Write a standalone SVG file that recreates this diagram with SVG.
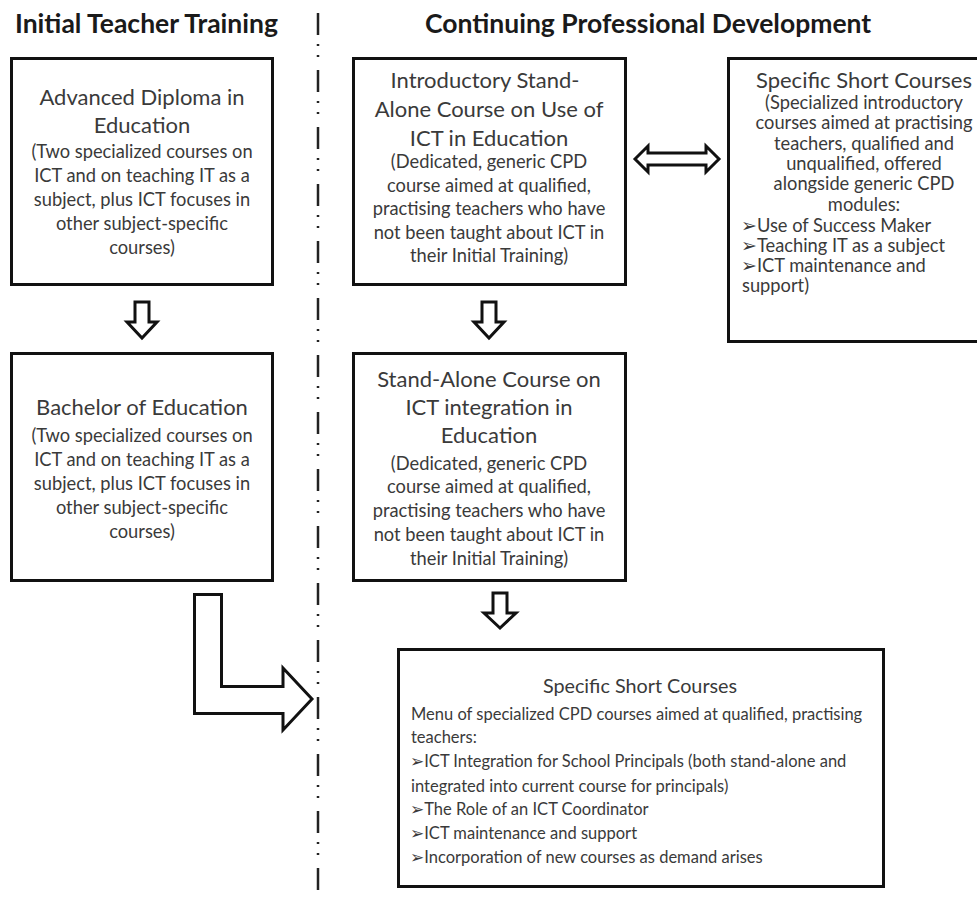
<svg xmlns="http://www.w3.org/2000/svg" width="977" height="897" viewBox="0 0 977 897">
<style>
.box{fill:#fff;stroke:#111;stroke-width:3}
.arr{fill:#fff;stroke:#111;stroke-width:3;stroke-linejoin:miter}
.hdr{font-family:Lato,"Liberation Sans",sans-serif;font-weight:bold;font-size:26.5px;fill:#1a1a1a}
.t{font-family:Lato,"Liberation Sans",sans-serif;font-size:22px;fill:#3a3a3a;text-anchor:middle}
.s{font-family:Lato,"Liberation Sans",sans-serif;font-size:18.3px;fill:#3a3a3a;text-anchor:middle}
.t2{font-family:Lato,"Liberation Sans",sans-serif;font-size:22px;fill:#3a3a3a;text-anchor:middle}
.t3{font-family:Lato,"Liberation Sans",sans-serif;font-size:19.8px;fill:#3a3a3a;text-anchor:middle}
.s2{font-family:Lato,"Liberation Sans",sans-serif;font-size:18.3px;fill:#3a3a3a}
.m{text-anchor:middle}
.b{font-family:Lato,"Liberation Sans",sans-serif;font-size:16.5px;fill:#3a3a3a}
.bul{font-family:"DejaVu Sans",sans-serif;font-size:19px}
.bul2{font-family:"DejaVu Sans",sans-serif;font-size:17px}
.div{stroke:#222;stroke-width:2.5;fill:none;stroke-dasharray:22 9 2 9 2 13}
</style>
<text class="hdr" x="15" y="33">Initial Teacher Training</text>
<text class="hdr" x="425" y="33">Continuing Professional Development</text>
<line class="div" x1="318" y1="13" x2="318" y2="897"/>

<g id="advanced-diploma">
<rect class="box" x="11.5" y="58.5" width="261" height="226"/>
<text class="t" x="142" y="105">Advanced Diploma in</text>
<text class="t" x="142" y="133">Education</text>
<text class="s" x="142" y="158">(Two specialized courses on</text>
<text class="s" x="142" y="182">ICT and on teaching IT as a</text>
<text class="s" x="142" y="206">subject, plus ICT focuses in</text>
<text class="s" x="142" y="230">other subject-specific</text>
<text class="s" x="142" y="254">courses)</text>
</g>

<g id="bachelor">
<rect class="box" x="11.5" y="353.5" width="261" height="227"/>
<text class="t" x="142" y="415">Bachelor of Education</text>
<text class="s" x="142" y="442">(Two specialized courses on</text>
<text class="s" x="142" y="466">ICT and on teaching IT as a</text>
<text class="s" x="142" y="490">subject, plus ICT focuses in</text>
<text class="s" x="142" y="514">other subject-specific</text>
<text class="s" x="142" y="538">courses)</text>
</g>

<g id="introductory">
<rect class="box" x="353.5" y="58.5" width="272" height="226"/>
<text class="t" x="485" y="88">Introductory Stand-</text>
<text class="t" x="489" y="117">Alone Course on Use of</text>
<text class="t" x="489" y="146">ICT in Education</text>
<text class="s" x="489" y="168">(Dedicated, generic CPD</text>
<text class="s" x="489" y="192">course aimed at qualified,</text>
<text class="s" x="489" y="215">practising teachers who have</text>
<text class="s" x="489" y="239">not been taught about ICT in</text>
<text class="s" x="489" y="262">their Initial Training)</text>
</g>

<g id="standalone">
<rect class="box" x="353.5" y="353.5" width="272" height="227"/>
<text class="t" x="489" y="387">Stand-Alone Course on</text>
<text class="t" x="489" y="415">ICT integration in</text>
<text class="t" x="489" y="443">Education</text>
<text class="s" x="489" y="470">(Dedicated, generic CPD</text>
<text class="s" x="489" y="493">course aimed at qualified,</text>
<text class="s" x="489" y="517">practising teachers who have</text>
<text class="s" x="489" y="541">not been taught about ICT in</text>
<text class="s" x="489" y="565">their Initial Training)</text>
</g>

<g id="specific-short-top">
<rect class="box" x="728.5" y="58.5" width="262" height="283"/>
<text class="t2" x="864" y="88">Specific Short Courses</text>
<text class="s2 m" x="864" y="109">(Specialized introductory</text>
<text class="s2 m" x="864" y="129">courses aimed at practising</text>
<text class="s2 m" x="864" y="150">teachers, qualified and</text>
<text class="s2 m" x="864" y="170">unqualified, offered</text>
<text class="s2 m" x="864" y="190">alongside generic CPD</text>
<text class="s2 m" x="864" y="211">modules:</text>
<text class="s2" x="741" y="232"><tspan class="bul">➢</tspan><tspan dx="0">Use of Success Maker</tspan></text>
<text class="s2" x="741" y="252"><tspan class="bul">➢</tspan><tspan dx="0">Teaching IT as a subject</tspan></text>
<text class="s2" x="741" y="272"><tspan class="bul">➢</tspan><tspan dx="0">ICT maintenance  and</tspan></text>
<text class="s2" x="742" y="292">support)</text>
</g>

<g id="specific-short-bottom">
<rect class="box" x="398.5" y="649.5" width="485" height="237"/>
<text class="t3" x="640" y="693">Specific Short Courses</text>
<text class="b" x="411" y="720">Menu of specialized CPD courses aimed at qualified, practising</text>
<text class="b" x="411" y="743">teachers:</text>
<text class="b" x="410" y="767"><tspan class="bul2">➢</tspan>ICT Integration  for School Principals (both  stand-alone  and</text>
<text class="b" x="411" y="792">integrated into current course for principals)</text>
<text class="b" x="410" y="815"><tspan class="bul2">➢</tspan>The Role of an ICT Coordinator</text>
<text class="b" x="410" y="839"><tspan class="bul2">➢</tspan>ICT maintenance and support</text>
<text class="b" x="410" y="863"><tspan class="bul2">➢</tspan>Incorporation of new courses as demand arises</text>
</g>

<g id="connectors">
<path class="arr" d="M135,302 H149 V322 H157 L142,338 L127,322 H135 Z"/>
<path class="arr" d="M482,302 H496 V322 H504 L489,338 L474,322 H482 Z"/>
<path class="arr" d="M493,593 H507 V613 H516 L500,628 L484,613 H493 Z"/>
<path class="arr" d="M635,159 L648,146 V153 H706 V146 L719,159 L706,172 V165 H648 V172 Z"/>
<path class="arr" d="M194.5,594.5 H221.5 V686.5 H283 V668 L312,699 L283,730 V713.5 H194.5 Z"/>
</g>
</svg>
